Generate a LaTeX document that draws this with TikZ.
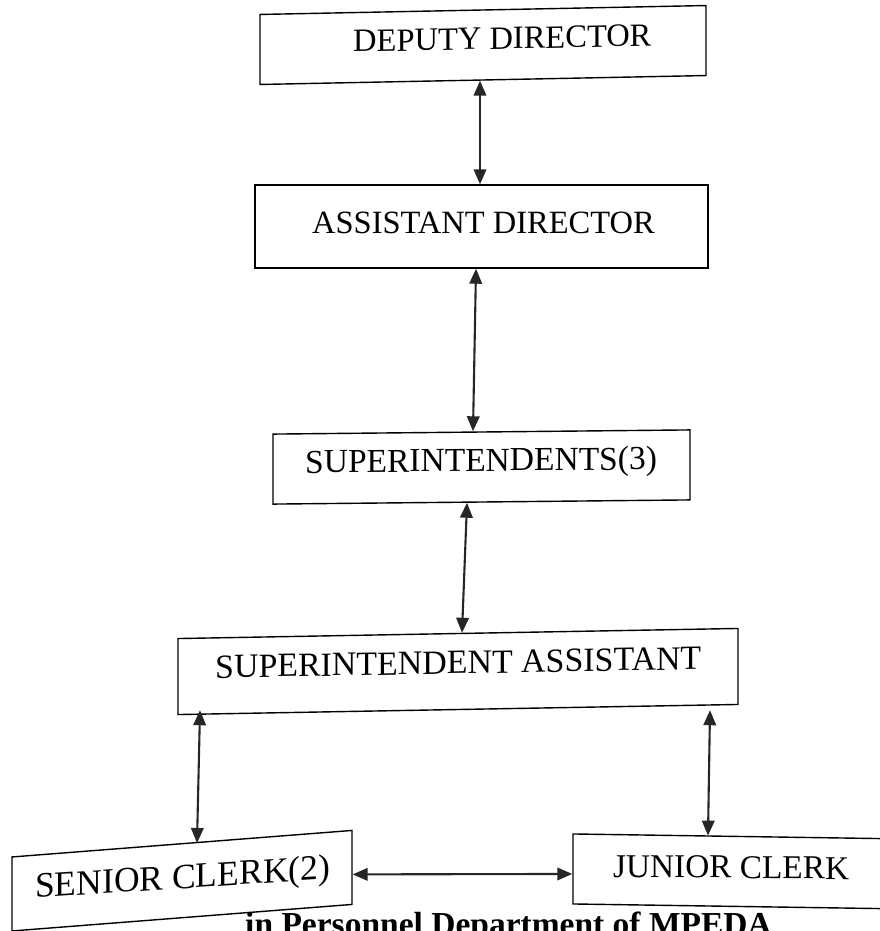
\documentclass[tikz,border=0pt]{standalone}
\usepackage{fontspec}
\setmainfont{Liberation Serif}
\usetikzlibrary{arrows.meta}
\definecolor{linkgray}{HTML}{262626}
\tikzset{
  box/.style={draw=black, line width=1.4pt, inner sep=0pt},
  lbl/.style={inner sep=0pt, text=black, anchor=base west},
  tip/.tip={Triangle[length=15pt,width=12.5pt]},
  link/.style={draw=linkgray, line width=2.1pt, tip-tip},
}
\begin{document}
\begin{tikzpicture}[x=1pt,y=-1pt]
\useasboundingbox (0,0) rectangle (880,931);
\fill[white] (0,0) rectangle (880,931);
\clip (0,0) rectangle (880,931);

% frames
\node[box, minimum width=446pt, minimum height=70pt, yslant=0.02] (dd) at (483,45) {};
\node[box, minimum width=453pt, minimum height=83pt] (ad) at (481.5,226.5) {};
\node[box, minimum width=417pt, minimum height=70pt, yslant=0.01] (sup) at (481.5,467) {};
\node[box, minimum width=560pt, minimum height=76pt, yslant=0.018] (sa) at (458,671.5) {};
\node[box, minimum width=340pt, minimum height=74pt, yslant=0.078] (sc) at (182,880.7) {};
\node[box, minimum width=312pt, minimum height=70pt, yslant=-0.015] (jc) at (729,871.3) {};

% labels
\node[lbl, font=\fontsize{32.5}{39}\selectfont, yslant=0.02] (ddt) at (353,52) {DEPUTY DIRECTOR};
\node[lbl, font=\fontsize{32.5}{39}\selectfont] (adt) at (312,233) {ASSISTANT DIRECTOR};
\node[lbl, font=\fontsize{33.5}{40}\selectfont, yslant=0.01] (supt) at (305,473) {SUPERINTENDENTS(3)};
\node[lbl, font=\fontsize{33.9}{41}\selectfont, yslant=0.018] (sat) at (215,678) {SUPERINTENDENT ASSISTANT};
\node[lbl, font=\fontsize{35.5}{42}\selectfont, yslant=0.065] (sct) at (35,898) {SENIOR CLERK(2)};
\node[lbl, font=\fontsize{33.3}{40}\selectfont, yslant=-0.01] (jct) at (613,877) {JUNIOR CLERK};

% caption
\node[lbl, font=\bfseries\fontsize{33.5}{40}\selectfont] (cap) at (245,935)
  {in Personnel Department of MPEDA};

% connectors
\draw[link] ([xshift=-3pt]dd.south) -- ([xshift=-1.5pt]ad.north);
\draw[link] ([xshift=-5.5pt]ad.south) -- ([xshift=-8.5pt]sup.north);
\draw[link] ([xshift=-14.5pt]sup.south) -- ([xshift=4pt]sa.north);
\draw[link] ([xshift=-258pt]sa.south) -- ([xshift=15pt]sc.north);
\draw[link] ([xshift=252pt]sa.south) -- ([xshift=-21pt]jc.north);
\draw[link] ([yshift=-7pt]sc.east) -- ([yshift=-5pt]jc.west);
\end{tikzpicture}
\end{document}
